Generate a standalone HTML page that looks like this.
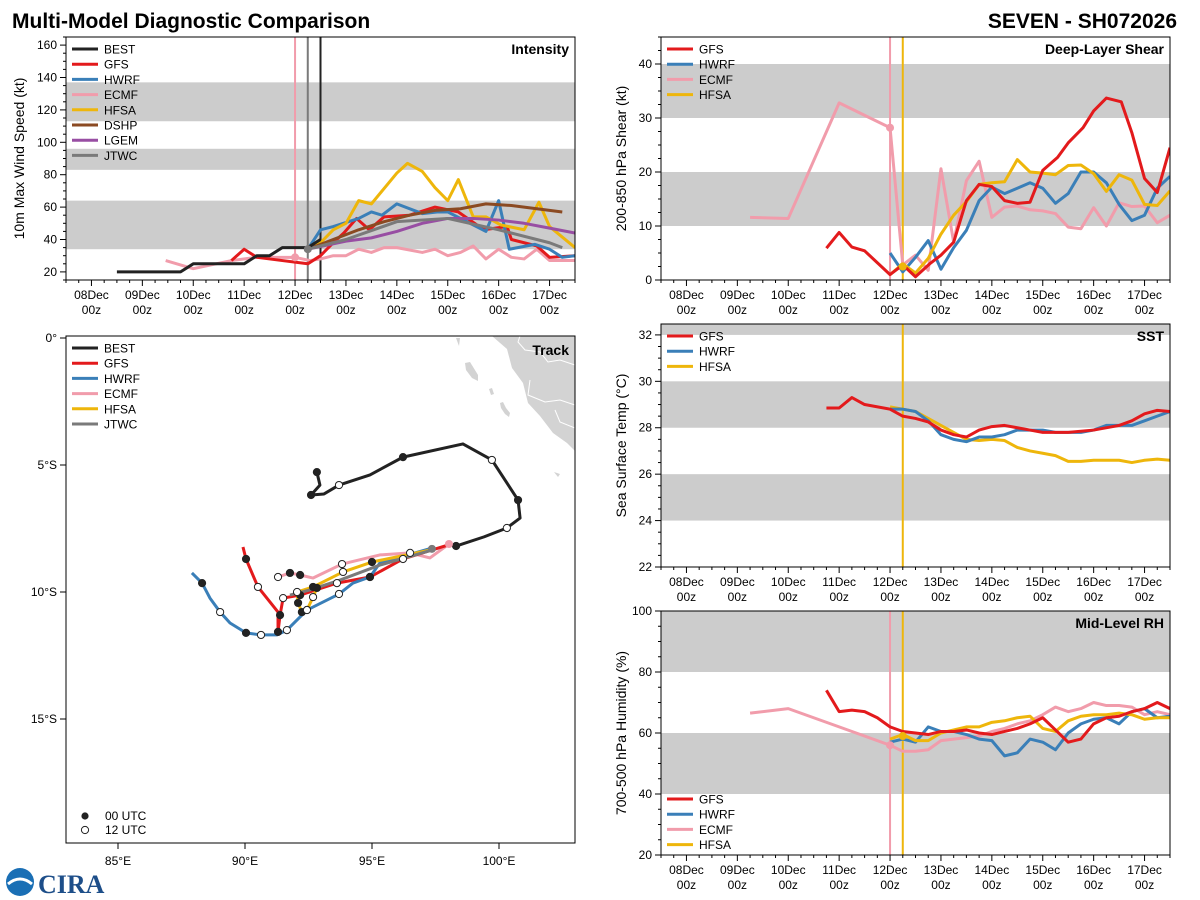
<!DOCTYPE html>
<html><head><meta charset="utf-8">
<style>
body{margin:0;background:#fff;}
svg{display:block;font-family:"Liberation Sans","DejaVu Sans",sans-serif;}
</style></head>
<body>
<svg id="chart" width="1200" height="900" viewBox="0 0 1200 900" xmlns="http://www.w3.org/2000/svg">
<rect width="1200" height="900" fill="#fff"/>
<text x="12" y="28" font-size="21" font-weight="bold">Multi-Model Diagnostic Comparison</text>
<text x="1177" y="28" font-size="21" font-weight="bold" text-anchor="end">SEVEN - SH072026</text>
<g id="root"></g>
<g>
<circle cx="20" cy="882" r="14" fill="#1a6fb5"/>
<path d="M8 884 Q20 874 32 884" stroke="#fff" stroke-width="3" fill="none"/>
<text x="38" y="893" font-size="26" font-weight="bold" fill="#1d4e89" font-family="Liberation Serif,serif">CIRA</text>
</g>
</svg>
<script>
// ---------- data ----------
const dayLabels=["08Dec","09Dec","10Dec","11Dec","12Dec","13Dec","14Dec","15Dec","16Dec","17Dec"];
const intTicks=[20,40,60,80,100,120,140,160];
const shearTicks=[0,10,20,30,40];
const sstTicks=[22,24,26,28,30,32];
const rhTicks=[20,40,60,80,100];
// intensity (hour from 08Dec00z, kt)
const intBEST=[[12,20],[18,20],[24,20],[30,20],[36,20],[42,20],[48,25],[54,25],[60,25],[66,25],[72,25],[78,30],[84,30],[90,35],[96,35],[102,35],[108,40]];
const intGFS=[[66,27],[72,34],[78,29],[90,27],[102,25],[108,30],[114,38],[119,44],[125,53],[131,46],[138,54],[150,55],[162,60],[173,57],[185,46],[196,48],[198,40],[210,36],[216,29],[228,30]];
const intHWRF=[[102,34],[108,46],[114,48],[126,53],[132,57],[137,55],[144,62],[156,56],[163,57],[168,57],[186,45],[192,64],[197,34],[209,37],[216,34],[222,29],[228,30]];
const intECMF=[[35,27],[48,22],[66,27],[78,29],[96,29],[103,27],[108,28],[114,30],[120,30],[126,34],[132,32],[138,35],[144,35],[156,32],[162,34],[168,30],[174,32],[180,36],[186,28],[192,34],[198,29],[204,28],[210,34],[216,27],[228,27]];
const intHFSA=[[102,34],[108,38],[114,46],[120,50],[126,64],[132,62],[144,81],[149,87],[156,82],[162,72],[168,64],[173,77],[180,54],[186,54],[193,49],[204,46],[211,63],[216,48],[228,35]];
const intDSHP=[[102,34],[114,40],[126,46],[138,51],[150,55],[162,58],[174,59],[186,62],[198,61],[210,59],[222,57]];
const intLGEM=[[102,34],[120,39],[132,41],[144,45],[156,50],[168,53],[180,53],[192,52],[204,50],[216,47],[228,44]];
const intJTWC=[[102,34],[120,40],[144,51],[168,53],[192,46],[216,38],[222,35]];
// shear (kt)
const shGFS=[[66,5.9],[72,8.8],[78,6.1],[84,5.4],[96,1],[102,2.8],[108,0.6],[115,3.1],[120,4.6],[126,7],[132,14.7],[138,17.7],[144,17.3],[150,14.7],[156,14.2],[162,14.4],[168,20.3],[175,22.7],[180,25.4],[187,28.2],[192,31.3],[198,33.7],[205,33],[210,27.3],[216,18.8],[222,16.2],[228,24.5]];
const shHWRF=[[96,5],[102,1.5],[108,4.2],[114,7.3],[120,2],[126,6],[132,9.2],[138,14.7],[144,17.2],[150,16],[156,17],[162,18],[168,17],[174,14.2],[180,16],[186,20],[192,20],[198,18],[204,14],[210,11],[216,12],[222,17],[228,19.2]];
const shECMF=[[30,11.6],[48,11.4],[72,32.8],[96,28.2],[102,2.8],[108,4.6],[114,1.8],[120,20.6],[126,7],[132,18.4],[138,22],[144,11.6],[150,13.5],[156,13.7],[162,13],[168,12.8],[174,12.3],[180,9.8],[186,9.5],[192,13.4],[198,10],[204,14.3],[210,13.6],[216,13.7],[222,10.6],[228,12]];
const shHFSA=[[96,1],[102,3],[108,1.3],[114,4],[120,8.5],[126,12],[132,14.5],[138,17.7],[144,18],[150,18.2],[156,22.3],[162,20],[168,19.8],[174,19.5],[180,21.2],[186,21.3],[192,19.7],[198,16.4],[204,19.5],[210,18.5],[216,14],[222,13.8],[228,16.5]];
// SST (C)
const sstGFS=[[66,28.85],[72,28.85],[78,29.3],[84,29.0],[96,28.8],[102,28.5],[108,28.4],[114,28.25],[120,27.9],[126,27.7],[132,27.6],[138,27.9],[144,28.05],[150,28.1],[156,28.0],[162,27.9],[168,27.8],[174,27.8],[180,27.8],[192,27.9],[204,28.1],[210,28.3],[216,28.6],[222,28.75],[228,28.7]];
const sstHWRF=[[96,28.8],[102,28.8],[108,28.7],[114,28.3],[120,27.7],[126,27.5],[132,27.4],[138,27.6],[144,27.6],[150,27.7],[156,27.9],[162,27.9],[168,27.9],[174,27.8],[180,27.8],[186,27.8],[192,27.9],[198,28.1],[204,28.1],[210,28.1],[216,28.3],[222,28.5],[228,28.7]];
const sstHFSA=[[96,28.9],[102,28.8],[108,28.7],[114,28.4],[120,28.1],[126,27.8],[132,27.5],[138,27.45],[144,27.5],[150,27.45],[156,27.15],[162,27.0],[168,26.9],[174,26.8],[180,26.55],[186,26.55],[192,26.6],[198,26.6],[204,26.6],[210,26.5],[216,26.6],[222,26.65],[228,26.6]];
// RH (%)
const rhGFS=[[66,74],[72,67],[78,67.5],[84,67],[90,65],[96,62],[102,60.5],[108,60],[114,59.5],[120,60.5],[126,60.5],[132,61],[138,60],[144,59.5],[150,60.5],[156,61.5],[162,63],[168,65],[174,61],[180,57],[186,58],[192,63],[198,65],[204,65.5],[210,67],[216,68],[222,70],[228,68]];
const rhHWRF=[[96,57],[102,58],[108,57],[114,62],[120,60.5],[126,60.5],[132,59.5],[138,58],[144,57.5],[150,52.5],[156,53.5],[162,58],[168,57],[174,54.5],[180,60],[186,63],[192,64.5],[198,65],[204,63],[210,67],[216,68],[222,65],[228,65.5]];
const rhECMF=[[30,66.5],[48,68],[72,62],[96,56],[102,54],[108,54],[114,54.5],[120,57.5],[126,58],[132,58.5],[138,59],[144,60.5],[150,61.5],[156,63],[162,64],[168,66],[174,68.5],[180,67],[186,68],[192,70],[198,69],[204,69],[210,68.5],[216,66],[222,67],[228,66]];
const rhHFSA=[[96,58],[102,59.5],[108,57.5],[114,57.5],[120,60],[126,61],[132,62],[138,62],[144,63.5],[150,64],[156,65],[162,65.5],[168,61.5],[174,60.5],[180,64],[186,65.5],[192,66],[198,66],[204,66.5],[210,66],[216,64.5],[222,65],[228,65]];
// track (lon E, lat S, marker f=00UTC o=12UTC -=none)
const trBEST=[[98.31,8.19,'f'],[99.41,7.83,'-'],[100.31,7.48,'o'],[100.83,7.09,'-'],[100.75,6.38,'f'],[99.72,4.80,'o'],[98.58,4.17,'-'],[96.22,4.69,'f'],[94.92,5.39,'-'],[93.70,5.79,'o'],[93.11,6.14,'-'],[92.60,6.18,'f'],[92.95,5.79,'-'],[92.83,5.28,'f']];
const trGFS=[[97.99,8.15,'-'],[96.22,8.70,'o'],[94.92,9.41,'f'],[93.62,9.65,'o'],[92.17,10.12,'f'],[91.50,10.24,'o'],[91.38,10.91,'f'],[91.30,11.57,'f'],[91.30,10.79,'-'],[90.51,9.80,'o'],[90.04,8.70,'f'],[89.92,8.23,'-']];
const trHWRF=[[97.36,8.27,'-'],[95.31,8.86,'-'],[94.92,9.41,'f'],[94.25,9.65,'-'],[93.70,10.08,'o'],[92.44,10.71,'o'],[91.65,11.50,'o'],[91.26,11.69,'-'],[90.63,11.69,'o'],[90.04,11.61,'f'],[89.41,11.22,'-'],[89.02,10.79,'o'],[88.62,10.24,'-'],[88.31,9.65,'f'],[87.91,9.25,'-']];
const trECMF=[[98.03,8.11,'-'],[97.28,8.66,'-'],[96.50,8.46,'o'],[95.31,8.54,'-'],[93.82,8.90,'o'],[92.68,9.45,'-'],[92.17,9.33,'f'],[91.77,9.25,'f'],[91.30,9.41,'o']];
const trHFSA=[[97.28,8.35,'-'],[95.0,8.82,'f'],[93.86,9.21,'o'],[92.68,9.80,'f'],[92.05,10.0,'o'],[92.09,10.43,'f'],[92.24,10.79,'f'],[92.44,10.71,'o'],[92.68,10.20,'o'],[92.83,9.84,'f']];
const trJTWC=[[97.36,8.35,'-'],[95.31,8.94,'-'],[93.74,9.53,'-'],[92.56,9.92,'-'],[91.77,10.12,'-']];

const C={BEST:"#222222",GFS:"#e31a1c",HWRF:"#3a7fb8",ECMF:"#f19cab",HFSA:"#eeb60b",DSHP:"#8b4a22",LGEM:"#984ea3",JTWC:"#7a7a7a"};
const NS="http://www.w3.org/2000/svg";
const root=document.getElementById('root');
function mk(tag,attrs,parent,name){const e=document.createElementNS(NS,tag);for(const k in attrs)e.setAttribute(k,attrs[k]);


(parent||root).appendChild(e);return e;}
function txt(x,y,s,size,parent,name,extra){const t=mk('text',Object.assign({x:x,y:y,'font-size':size||12},extra||{}),parent,name);t.textContent=s;return t;}
let clipN=0;
function timePanel(o){
  const g=mk('g',{},root,o.name);
  const X=t=>o.x0+(t+12)/240*(o.x1-o.x0);
  const Y=v=>o.y1-(v-o.vmin)/(o.vmax-o.vmin)*(o.y1-o.y0);
  const cid='pc'+(clipN++);
  const cp=mk('clipPath',{id:cid},g,'panel-clip');
  mk('rect',{x:o.x0,y:o.y0,width:o.x1-o.x0,height:o.y1-o.y0},cp,'clip-rect');
  o.bands.forEach(b=>{const ya=Y(Math.min(b[1],o.vmax)),yb=Y(Math.max(b[0],o.vmin));
    mk('rect',{x:o.x0,y:ya,width:o.x1-o.x0,height:yb-ya,fill:"#cccccc"},g,'threshold-band');});
  o.vlines.forEach(v=>mk('line',{x1:X(v[0]),x2:X(v[0]),y1:o.y0,y2:o.y1,stroke:v[1],'stroke-width':2},g,'init-time-line'));
  const sg=mk('g',{'clip-path':`url(#${cid})`},g,'series-group');
  o.series.forEach(s=>{
    mk('polyline',{points:s.d.map(p=>X(p[0])+","+Y(p[1])).join(" "),fill:"none",stroke:C[s.k],'stroke-width':3,'stroke-linejoin':'round'},sg,'series-'+s.k.toLowerCase());
  });
  (o.dots||[]).forEach(d=>mk('circle',{cx:X(d[0]),cy:Y(d[1]),r:4,fill:C[d[2]]},g,'init-marker'));
  mk('rect',{x:o.x0,y:o.y0,width:o.x1-o.x0,height:o.y1-o.y0,fill:"none",stroke:"#000",'stroke-width':1},g,'plot-frame');
  for(let t=-12;t<=228;t+=6){const maj=t%24===0;const x=X(t);
    mk('line',{x1:x,x2:x,y1:o.y1,y2:o.y1+(maj?6:3),stroke:"#000"},g,'x-tick');}
  dayLabels.forEach((d,i)=>{const x=X(i*24);
    txt(x,o.y1+19,d,12,g,'x-tick-label',{'text-anchor':'middle'});
    txt(x,o.y1+34,"00z",12,g,'x-tick-label',{'text-anchor':'middle'});});
  for(let v=Math.ceil(o.vmin/o.minor)*o.minor;v<=o.vmax;v+=o.minor){const y=Y(v);
    const maj=o.ticks.indexOf(v)>=0;
    mk('line',{x1:o.x0-(maj?6:3),x2:o.x0,y1:y,y2:y,stroke:"#000"},g,'y-tick');}
  o.ticks.forEach(v=>txt(o.x0-9,Y(v)+4,String(v),12,g,'y-tick-label',{'text-anchor':'end'}));
  const cy=(o.y0+o.y1)/2;
  const lx=o.x0-(o.x0>600?35:42);
  txt(lx,cy,o.ylabel,14,g,'y-axis-title',{'text-anchor':'middle',transform:`rotate(-90 ${lx} ${cy})`});
  txt(o.x1-6,o.y0+17,o.title,14,g,'panel-title',{'text-anchor':'end','font-weight':'bold'});
  const lg=mk('g',{},g,'legend');
  const ly0=o.legendY!==undefined?o.legendY:o.y0+12;
  o.legend.forEach((k,i)=>{const y=ly0+i*15.2;
    mk('line',{x1:o.x0+6,x2:o.x0+32,y1:y,y2:y,stroke:C[k],'stroke-width':3},lg,'legend-swatch-'+k.toLowerCase());
    txt(o.x0+38,y+4.5,k,12,lg,'legend-label-'+k.toLowerCase());});
}

timePanel({name:'intensity-panel',x0:66,x1:575,y0:37,y1:280,vmin:15,vmax:165,ticks:intTicks,minor:5,
 bands:[[34,64],[83,96],[113,137]],vlines:[[96,C.ECMF],[102,C.JTWC],[108,C.BEST]],
 series:[{k:"ECMF",d:intECMF},{k:"GFS",d:intGFS},{k:"HWRF",d:intHWRF},{k:"HFSA",d:intHFSA},{k:"DSHP",d:intDSHP},{k:"LGEM",d:intLGEM},{k:"JTWC",d:intJTWC},{k:"BEST",d:intBEST}],
 dots:[[96,29,"ECMF"],[102,34,"JTWC"]],
 legend:["BEST","GFS","HWRF","ECMF","HFSA","DSHP","LGEM","JTWC"],title:"Intensity",ylabel:"10m Max Wind Speed (kt)"});
timePanel({name:'shear-panel',x0:661,x1:1170,y0:37,y1:280,vmin:0,vmax:45,ticks:shearTicks,minor:2.5,
 bands:[[10,20],[30,40]],vlines:[[96,C.ECMF],[102,C.HFSA]],
 series:[{k:"ECMF",d:shECMF},{k:"HWRF",d:shHWRF},{k:"HFSA",d:shHFSA},{k:"GFS",d:shGFS}],
 dots:[[96,28.2,"ECMF"],[102,2.5,"HFSA"]],
 legend:["GFS","HWRF","ECMF","HFSA"],title:"Deep-Layer Shear",ylabel:"200-850 hPa Shear (kt)"});
timePanel({name:'sst-panel',x0:661,x1:1170,y0:324,y1:567,vmin:22,vmax:32.47,ticks:sstTicks,minor:0.5,
 bands:[[24,26],[28,30],[32,33]],vlines:[[102,C.HFSA]],
 series:[{k:"HFSA",d:sstHFSA},{k:"HWRF",d:sstHWRF},{k:"GFS",d:sstGFS}],
 legend:["GFS","HWRF","HFSA"],title:"SST",ylabel:"Sea Surface Temp (°C)"});
timePanel({name:'rh-panel',x0:661,x1:1170,y0:611,y1:855,vmin:20,vmax:100,ticks:rhTicks,minor:5,
 bands:[[40,60],[80,100]],vlines:[[96,C.ECMF],[102,C.HFSA]],
 series:[{k:"ECMF",d:rhECMF},{k:"HWRF",d:rhHWRF},{k:"HFSA",d:rhHFSA},{k:"GFS",d:rhGFS}],
 dots:[[96,56,"ECMF"],[102,59,"HFSA"]],legendY:799,
 legend:["GFS","HWRF","ECMF","HFSA"],title:"Mid-Level RH",ylabel:"700-500 hPa Humidity (%)"});

// ---------- track ----------
(function(){
  const x0=66,x1=575,y0=336,y1=843;
  const g=mk('g',{},root,'track-panel');
  const X=lon=>118+(lon-85)*25.4;
  const Y=s=>338+s*25.4;
  const defs=mk('clipPath',{id:'tc'},g,'track-clip');
  mk('rect',{x:x0,y:y0,width:x1-x0,height:y1-y0},defs,'clip-rect');
  const land=mk('g',{'clip-path':'url(#tc)'},g,'land');
  mk('polygon',{points:"492,336 580,336 580,455 575,451 567,443 553,433 540,416 528,403 523,383 512,368 507,349",fill:"#d3d3d3"},land,'land-mass');
  mk('polyline',{points:"520,336 518,342 525,350 540,352 548,362 560,360 575,365",fill:"none",stroke:"#fff",'stroke-width':1},land,'border');
  mk('polyline',{points:"530,380 528,395 545,402 560,400 575,405",fill:"none",stroke:"#fff",'stroke-width':1},land,'border');
  mk('polyline',{points:"555,410 560,422 575,428",fill:"none",stroke:"#fff",'stroke-width':1},land,'border');
  mk('polygon',{points:"465,363 470,362 478,375 478,381 472,378 466,370",fill:"#d3d3d3"},land,'island');
  mk('polygon',{points:"489,389 492,388 494,394 491,395",fill:"#d3d3d3"},land,'island');
  mk('polygon',{points:"500,403 503,402 506,408 510,413 509,417 505,414 501,408",fill:"#d3d3d3"},land,'island');
  mk('polygon',{points:"554,472 560,474 558,477",fill:"#d3d3d3"},land,'island');
  mk('polygon',{points:"456,338 460,338 459,346",fill:"#d3d3d3"},land,'island');
  const tracks=[["ECMF",trECMF],["GFS",trGFS],["HWRF",trHWRF],["HFSA",trHFSA],["JTWC",trJTWC],["BEST",trBEST]];
  tracks.forEach(([k,d])=>{
    mk('polyline',{points:d.map(p=>X(p[0])+","+Y(p[1])).join(" "),fill:"none",stroke:C[k],'stroke-width':3,'stroke-linejoin':'round'},g,'track-'+k.toLowerCase());
  });
  tracks.forEach(([k,d])=>{d.forEach(p=>{if(p[2]==='-')return;
    mk('circle',{cx:X(p[0]),cy:Y(p[1]),r:3.6,fill:p[2]==='f'?"#222":"#fff",stroke:"#222",'stroke-width':1},g,'track-point');});});
  mk('circle',{cx:X(98.03),cy:Y(8.11),r:4,fill:C.ECMF},g,'ecmf-start');
  mk('circle',{cx:X(97.36),cy:Y(8.3),r:4,fill:C.JTWC},g,'jtwc-start');
  mk('rect',{x:x0,y:y0,width:x1-x0,height:y1-y0,fill:"none",stroke:"#000"},g,'plot-frame');
  [85,90,95,100].forEach(l=>{mk('line',{x1:X(l),x2:X(l),y1:y1,y2:y1+6,stroke:"#000"},g,'x-tick');
    txt(X(l),y1+22,l+"°E",12,g,'x-tick-label',{'text-anchor':'middle'});});
  [[0,"0°"],[5,"5°S"],[10,"10°S"],[15,"15°S"]].forEach(([s,l])=>{mk('line',{x1:x0-6,x2:x0,y1:Y(s),y2:Y(s),stroke:"#000"},g,'y-tick');
    txt(x0-9,Y(s)+4,l,12,g,'y-tick-label',{'text-anchor':'end'});});
  txt(x1-6,y0+19,"Track",14,g,'panel-title',{'text-anchor':'end','font-weight':'bold'});
  const lg=mk('g',{},g,'legend');
  ["BEST","GFS","HWRF","ECMF","HFSA","JTWC"].forEach((k,i)=>{const y=y0+12+i*15.2;
    mk('line',{x1:x0+6,x2:x0+32,y1:y,y2:y,stroke:C[k],'stroke-width':3},lg,'legend-swatch-'+k.toLowerCase());
    txt(x0+38,y+4.5,k,12,lg,'legend-label-'+k.toLowerCase());});
  const ml=mk('g',{},g,'marker-legend');
  mk('circle',{cx:85,cy:816,r:3.6,fill:"#222"},ml,'legend-00utc-marker');
  txt(105,820,"00 UTC",12,ml,'legend-00utc-label');
  mk('circle',{cx:85,cy:830,r:3.6,fill:"#fff",stroke:"#222"},ml,'legend-12utc-marker');
  txt(105,834,"12 UTC",12,ml,'legend-12utc-label');
})();
</script>
</body></html>
